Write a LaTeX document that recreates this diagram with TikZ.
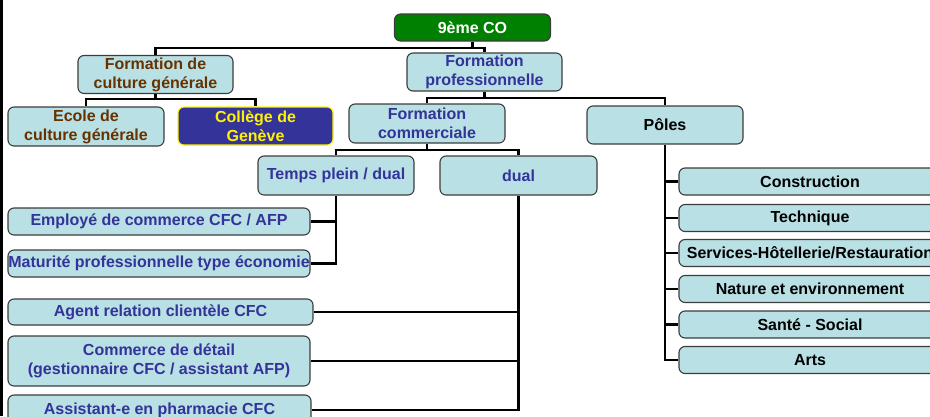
\documentclass[tikz,border=0pt]{standalone}
\usepackage{fontspec}
\setmainfont{Liberation Sans}
\definecolor{boxfill}{RGB}{185,224,228}
\definecolor{boxline}{RGB}{60,60,60}
\definecolor{brown}{RGB}{102,51,0}
\definecolor{navy}{RGB}{51,51,153}
\definecolor{cogreen}{RGB}{0,128,0}
\begin{document}
\begin{tikzpicture}[x=1pt,y=-1pt]
\tikzstyle{box}=[draw=boxline,line width=1.1pt,fill=boxfill,rounded corners=6pt,inner sep=0pt,align=center,font=\bfseries\fontsize{16}{18.8}\selectfont]
\tikzstyle{culture}=[box,text=brown,minimum width=155pt,minimum height=38pt]
\tikzstyle{prof}=[box,text=navy,minimum width=156pt,minimum height=39pt]
\tikzstyle{metier}=[box,text=navy,minimum width=302pt,minimum height=27pt]
\tikzstyle{pole}=[box,text=black,minimum width=262pt,minimum height=27pt]
\tikzstyle{edge}=[draw,line width=2.8pt,-]
\def \polex {810}
\useasboundingbox (0,0) rectangle (930,416);
\clip (0,0) rectangle (930,416);
\fill[black] (0,0) rectangle (2.6,416);
\node[box,fill=cogreen,text=white,minimum width=156pt,minimum height=27pt] (co) at (472.5,27.5) {9ème CO};
\node[culture] (generale) at (155.5,74.5) {Formation de\\culture générale};
\node[prof,minimum width=155pt,minimum height=38pt] (professionnelle) at (484.5,72) {Formation\\professionnelle};
\node[culture,minimum width=156pt,minimum height=39pt] (ecg) at (86,126.5) {Ecole de\\culture générale};
\node[box,fill=navy,draw=yellow,text=yellow,minimum width=155pt,minimum height=38pt] (college) at (255.5,126) {Collège de\\Genève};
\node[prof] (commerciale) at (427,123.5) {Formation\\commerciale};
\node[prof,text=black,minimum height=38pt] (poles) at (665,125) {Pôles};
\node[prof] (plein) at (336,175.5) {Temps plein / dual};
\node[prof,minimum width=157pt] (dual) at (518.5,175.5) {dual};
\node[metier] (employe) at (159,221.5) {Employé de commerce CFC / AFP};
\node[metier] (maturite) at (159,263.5) {Maturité professionnelle type économie};
\node[metier,minimum width=305pt,minimum height=26pt] (agent) at (160.5,312) {Agent relation clientèle CFC};
\node[metier,minimum height=50pt] (detail) at (159,361) {Commerce de détail\\(gestionnaire CFC / assistant AFP)};
\node[metier,minimum width=303pt,minimum height=30pt] (pharmacie) at (159.5,410) {Assistant-e en pharmacie CFC};
\node[pole] (construction) at (\polex,181.5) {Construction};
\node[pole] (technique) at (\polex,218) {Technique};
\node[pole] (hotellerie) at (\polex,253) {Services-Hôtellerie/Restauration};
\node[pole] (nature) at (\polex,289) {Nature et environnement};
\node[pole] (sante) at (\polex,324.5) {Santé - Social};
\node[pole] (arts) at (\polex,360) {Arts};
\coordinate (j1) at (472.5,48);
\coordinate (j2) at (155.5,99);
\coordinate (j3) at (484.5,98);
\coordinate (j4) at (427,150);
\path[edge] (co) -- (j1);
\path[edge] (generale.north) |- (j1) -| (professionnelle.north);
\path[edge] (generale) -- (j2);
\path[edge] (ecg.north) |- (j2) -| (college.north);
\path[edge] (professionnelle) -- (j3);
\path[edge] (commerciale.north) |- (j3) -| (poles.north);
\path[edge] (commerciale) -- (j4);
\path[edge] (plein.north) |- (j4) -| (dual.north);
\path[edge] (plein.south) |- (maturite.east);
\path[edge] (plein.south |- employe.east) -- (employe.east);
\path[edge] (dual.south) |- (pharmacie.east);
\path[edge] (dual.south |- agent.east) -- (agent.east);
\path[edge] (dual.south |- detail.east) -- (detail.east);
\path[edge] (poles.south) |- (arts.west);
\path[edge] (poles.south |- construction.west) -- (construction.west);
\path[edge] (poles.south |- technique.west) -- (technique.west);
\path[edge] (poles.south |- hotellerie.west) -- (hotellerie.west);
\path[edge] (poles.south |- nature.west) -- (nature.west);
\path[edge] (poles.south |- sante.west) -- (sante.west);
\end{tikzpicture}
\end{document}
